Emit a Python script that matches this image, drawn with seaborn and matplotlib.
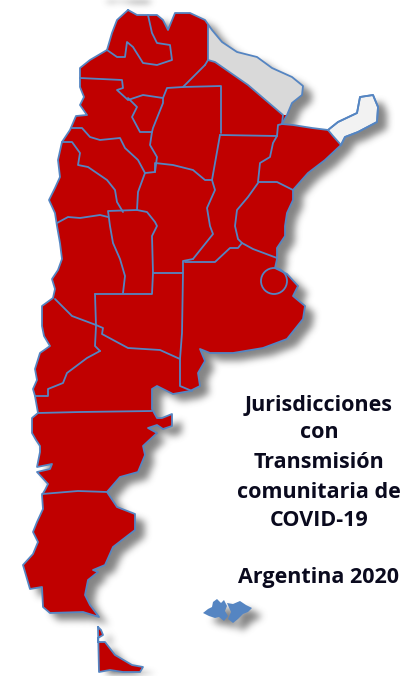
import numpy as np
import pandas as pd
import matplotlib
matplotlib.use('Agg')
import matplotlib.pyplot as plt
from matplotlib.path import Path
import seaborn as sns

RED = '#c00000'
BLUE = '#5585c2'

# everything, in pixels of the 410x677 image
OUTLINE = [(128, 10), (137, 15), (148, 15), (157, 15), (163, 20), (168, 30), (175, 13), (190, 13),
           (205, 20), (212, 30), (222, 42), (237, 52), (257, 57), (272, 68), (292, 77), (303, 86),
           (302, 95), (292, 103), (287, 115), (282, 124), (293, 125), (312, 128), (328, 130),
           (338, 122), (357, 113), (360, 97), (373, 95), (378, 107), (377, 122), (358, 132),
           (345, 137), (341, 145), (325, 160), (308, 173), (293, 190), (293, 200), (287, 213),
           (285, 226), (285, 236), (277, 248), (277, 259), (275, 268), (287, 274), (298, 286),
           (293, 296), (305, 306), (303, 319), (287, 339), (263, 348), (233, 353), (210, 353),
           (200, 349), (205, 361), (198, 373), (200, 386), (190, 391), (173, 394), (157, 386),
           (152, 389), (152, 409), (157, 418), (162, 418), (172, 414), (172, 426), (163, 429),
           (157, 425), (148, 428), (157, 433), (143, 446), (145, 455), (138, 472), (120, 477),
           (107, 492), (117, 507), (135, 514), (135, 530), (113, 547), (105, 565), (93, 570),
           (98, 572), (88, 580), (85, 595), (90, 605), (99, 617), (83, 612), (50, 613), (43, 607),
           (42, 587), (30, 589), (23, 565), (33, 554), (38, 542), (33, 532), (37, 522), (43, 509),
           (42, 495), (45, 490), (48, 484), (37, 472), (50, 469), (52, 464), (37, 467), (40, 452),
           (40, 446), (36, 440), (32, 433), (32, 418), (38, 413), (35, 396), (33, 389), (37, 380),
           (35, 369), (40, 353), (50, 346), (44, 336), (42, 326), (42, 306), (53, 298), (55, 289),
           (52, 279), (58, 270), (62, 259), (60, 243), (57, 226), (55, 213), (49, 200), (55, 188),
           (60, 177), (58, 160), (62, 142), (70, 130), (76, 116), (87, 115), (80, 105), (84, 97),
           (80, 87), (80, 78), (80, 68), (90, 60), (107, 50), (112, 33), (117, 20)]

FORMOSA = [(208, 25), (212, 30), (222, 42), (237, 52), (257, 57), (272, 68), (292, 77), (303, 86),
           (302, 95), (292, 103), (287, 115), (283, 115), (248, 85), (215, 62), (208, 60)]

MISIONES = [(328, 130), (338, 122), (357, 113), (360, 97), (373, 95), (378, 107), (377, 122),
            (358, 132), (345, 137), (341, 145), (333, 136)]

FUEGO = [(98, 627), (101, 630), (103, 635), (98, 638), (98, 642), (105, 642), (115, 655), (132, 665),
         (143, 667), (140, 672), (123, 672), (110, 670), (99, 672)]

MALVINAS_W = [(203, 613), (208, 609), (212, 607), (213, 602), (217, 599), (221, 603), (224, 600),
              (227, 606), (225, 611), (228, 616), (224, 621), (219, 617), (215, 618), (209, 616)]
MALVINAS_E = [(227, 603), (233, 604), (240, 601), (246, 605), (252, 608), (248, 612), (243, 614),
              (238, 619), (233, 623), (228, 619), (231, 612)]

BORDERS = {
    'jujuy': [(148, 15), (152, 33), (157, 43), (170, 45), (172, 60), (157, 65), (143, 63), (133, 47),
              (127, 42), (125, 57), (117, 57), (107, 50)],
    'catamarca_n': [(80, 78), (122, 80), (123, 88), (117, 90), (128, 100), (143, 95), (163, 98),
                    (167, 88), (183, 87), (205, 65)],
    'formosa_w': [(208, 25), (208, 60), (205, 65)],
    'formosa_s': [(208, 60), (215, 62), (248, 85), (283, 115), (282, 124)],
    'chaco_w': [(183, 87), (221, 86), (221, 133)],
    'chaco_s': [(220, 135), (277, 136), (278, 125), (282, 124)],
    'corrientes': [(277, 136), (273, 143), (270, 157), (260, 163), (258, 182), (277, 182), (293, 190)],
    'entre_rios': [(258, 183), (248, 197), (237, 210), (235, 226), (238, 239), (242, 243), (253, 249),
                   (277, 258)],
    'santa_fe_s': [(242, 243), (238, 248), (230, 248), (215, 262), (185, 262)],
    'santa_fe_w': [(220, 135), (212, 180), (215, 190), (207, 208), (210, 226), (213, 234), (193, 259)],
    'cordoba_n': [(145, 173), (155, 172), (155, 163), (173, 165), (193, 170), (205, 180), (212, 180)],
    'cordoba_w': [(145, 173), (138, 192), (137, 210), (147, 212), (155, 222), (157, 226), (152, 236),
                  (153, 273), (183, 273), (183, 261), (193, 259)],
    'san_luis_n': [(137, 210), (108, 211), (110, 226), (113, 243), (120, 259), (125, 276), (123, 293)],
    'la_pampa_n': [(95, 294), (152, 294), (153, 273)],
    'la_pampa_w': [(95, 294), (96, 326), (95, 346), (100, 351)],
    'neuquen_e': [(100, 351), (87, 358), (67, 373), (63, 383), (48, 389), (48, 396), (35, 396)],
    'mendoza_s': [(55, 299), (72, 316), (80, 319), (96, 325), (103, 328), (102, 334), (115, 341),
                  (128, 348), (160, 350), (180, 359)],
    'la_pampa_e': [(183, 273), (182, 333), (180, 359), (180, 386), (192, 391)],
    'rio_negro_s': [(38, 413), (80, 412), (152, 411)],
    'chubut_s': [(42, 494), (78, 491), (107, 492)],
    'tucuman': [(128, 98), (137, 107), (132, 117), (140, 132), (152, 132), (153, 128), (163, 103),
                (163, 98)],
    'catamarca_s': [(72, 128), (82, 128), (90, 137), (100, 140), (120, 138), (125, 148), (138, 160),
                    (145, 173)],
    'catamarca_e': [(152, 132), (150, 145), (157, 157), (155, 172)],
    'san_juan_e': [(62, 142), (72, 142), (80, 153), (78, 165), (88, 167), (107, 180), (115, 190),
                   (117, 202), (123, 212)],
    'mendoza_n': [(57, 223), (68, 217), (80, 218), (100, 215), (108, 217)],
}

CABA_CENTER = (274, 281)
CABA_RADIUS = 13

TITLE_LINES = ['Jurisdicciones', 'con', 'Transmisión', 'comunitaria de', 'COVID-19', 'Argentina 2020']
TITLE_Y = [405, 433, 462, 492, 520, 578]


def close_ring(points):
    return points + [points[0]]


def make_shadow(polygons, width=410, height=677, dx=9, dy=8, passes=3):
    # soft drop shadow under the land
    xx, yy = np.meshgrid(np.arange(width), np.arange(height))
    grid = np.column_stack([xx.ravel(), yy.ravel()])
    mask = np.zeros(grid.shape[0], dtype=bool)
    for poly in polygons:
        mask |= Path(close_ring(poly)).contains_points(grid)
    mask = mask.reshape(height, width).astype(float)
    mask = np.roll(np.roll(mask, dy, axis=0), dx, axis=1)
    kernel = np.ones(7) / 7
    for _ in range(passes):
        mask = np.apply_along_axis(lambda r: np.convolve(r, kernel, mode='same'), 0, mask)
        mask = np.apply_along_axis(lambda r: np.convolve(r, kernel, mode='same'), 1, mask)
    return mask


sns.set_theme(style='white')
plt.rcParams['font.family'] = ['Open Sans', 'DejaVu Sans']

fig = plt.figure(figsize=(4.10, 6.77), dpi=100)
ax = fig.add_axes([0, 0, 1, 1])

shadow = make_shadow([OUTLINE, FUEGO, MALVINAS_W, MALVINAS_E])
shadow_rgba = np.zeros(shadow.shape + (4,))
shadow_rgba[..., :3] = 0.4
shadow_rgba[..., 3] = shadow * 0.8
ax.imshow(shadow_rgba, zorder=0, interpolation='bilinear')

ax.fill(*zip(*OUTLINE), color=RED, lw=0, zorder=2)
ax.fill(*zip(*FUEGO), color=RED, lw=0, zorder=2)
ax.fill(*zip(*FORMOSA), color='#d9d9d9', lw=0, zorder=3)
ax.fill(*zip(*MISIONES), color='#f2f2f2', lw=0, zorder=3)
ax.fill(*zip(*MALVINAS_W), color=BLUE, lw=0, zorder=3)
ax.fill(*zip(*MALVINAS_E), color=BLUE, lw=0, zorder=3)

rows = []
for name, pts in BORDERS.items():
    rows += [(name, x, y) for x, y in pts]
for name, pts in [('outline', OUTLINE), ('fuego', FUEGO), ('misiones', MISIONES)]:
    rows += [(name, x, y) for x, y in close_ring(pts)]
borders = pd.DataFrame(rows, columns=['border', 'x', 'y'])

sns.lineplot(data=borders, x='x', y='y', units='border', estimator=None, sort=False,
             color=BLUE, lw=1.3, legend=False, ax=ax, zorder=4)

ax.add_patch(plt.Circle(CABA_CENTER, CABA_RADIUS, fill=False, ec=BLUE, lw=1.3, zorder=5))

for line, y in zip(TITLE_LINES, TITLE_Y):
    ax.text(319, y, line, ha='center', va='center', fontsize=15.5, fontweight='bold',
            color='#0a0a1e', zorder=6)

ax.set_xlim(0, 410)
ax.set_ylim(677, 0)
ax.axis('off')

fig.savefig('out.png', dpi=100, facecolor='white')
plt.close(fig)
